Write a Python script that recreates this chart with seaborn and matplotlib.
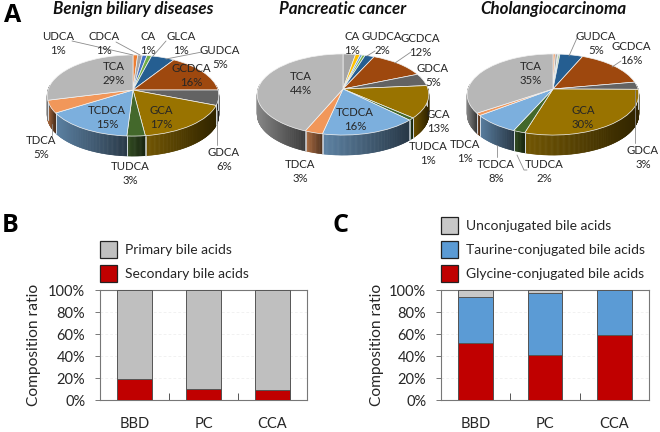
import numpy as np
import pandas as pd
import matplotlib
matplotlib.use("Agg")
import matplotlib.pyplot as plt
from matplotlib.path import Path
from matplotlib.patches import PathPatch, Polygon, Patch
from matplotlib.colors import to_rgb
import seaborn as sns

# ---------- data ----------
bbd_values = [1, 1, 1, 1, 5, 16, 6, 17, 3, 15, 5, 29]
pc_values = [2.7, 1, 0.5, 0.6, 2, 12, 5, 13, 1, 16, 3, 44]
cca_values = [0.5, 0.5, 0.2, 0.3, 5, 16, 3, 30, 2, 8, 1, 35]
bbd_colors = ["#ED7D31", "#A5A5A5", "#4472C4", "#70AD47", "#255E91", "#9E480E",
              "#636363", "#997300", "#43682B", "#7CAFDD", "#F1975A", "#B7B7B7"]
pc_colors = ["#A5A5A5", "#FFC000", "#5B9BD5", "#70AD47", "#255E91", "#9E480E",
             "#636363", "#997300", "#43682B", "#7CAFDD", "#F1975A", "#B7B7B7"]
cca_colors = ["#F1975A", "#A5A5A5", "#5B9BD5", "#70AD47", "#255E91", "#9E480E",
              "#636363", "#997300", "#43682B", "#7CAFDD", "#F1975A", "#B7B7B7"]

groups = ["BBD", "PC", "CCA"]
secondary = [19, 10, 9]
primary = [81, 90, 91]
glycine = [51.5, 40.5, 59]
taurine = [42.5, 57, 41]
unconjugated = [6, 2.5, 0]

sns.set_theme(style="white")
plt.rcParams["font.family"] = ["Lato", "DejaVu Sans"]
TXT = "#262626"

W, H = 660, 432
fig = plt.figure(figsize=(W / 100, H / 100), dpi=100, facecolor="white")


def axes_px(x0, y0, x1, y1):
    return fig.add_axes([x0 / W, 1 - y1 / H, (x1 - x0) / W, (y1 - y0) / H])


# ---------- pies (perspective disc drawn from ax.pie wedges) ----------
ov = fig.add_axes([0, 0, 1, 1])
K, BY, RX, DEPTH = 0.136, 39.8, 85.0, 20.0


def project(v, cx, cy):
    w = 1 + K * v[:, 1]
    return np.column_stack([cx + RX * v[:, 0] / w, cy - BY * v[:, 1] / w])


def pie3d(values, colors, cx, cy):
    wedges, _ = ov.pie(values, colors=colors, startangle=90, counterclock=False,
                       radius=1, center=(0, 0), frame=False)
    for wd in wedges:
        wd.remove()
    for wd, col in zip(wedges, colors):
        t1, t2 = wd.theta1, wd.theta2
        angs = np.arange(t1, t2 + 0.5, 0.5)
        angs = angs[np.sin(np.radians(angs)) < 0.12]
        if len(angs) < 2:
            continue
        rim = project(np.column_stack([np.cos(np.radians(angs)), np.sin(np.radians(angs))]), cx, cy)
        xmin, xmax = rim[:, 0].min(), rim[:, 0].max()
        base = np.array(to_rgb(col))
        for i in range(len(angs) - 1):
            tt = ((rim[i, 0] + rim[i + 1, 0]) / 2 - xmin) / max(xmax - xmin, 1)
            shade = base * (0.74 - 0.42 * tt)
            ov.add_patch(Polygon([rim[i], rim[i + 1], rim[i + 1] + [0, DEPTH], rim[i] + [0, DEPTH]],
                                 closed=True, fc=shade, ec=shade, lw=0.4, zorder=2))
        for a in (0, -1):
            ov.plot([rim[a, 0]] * 2, [rim[a, 1], rim[a, 1] + DEPTH], color="#dfe6ee", lw=0.5, zorder=2.5)
    for wd, col in zip(wedges, colors):
        p = wd.get_path()
        ov.add_patch(PathPatch(Path(project(p.vertices.copy(), cx, cy), p.codes),
                               fc=col, ec="#f2f2f2", lw=0.5, zorder=3))


pie3d(bbd_values, bbd_colors, 133, 90)
pie3d(pc_values, pc_colors, 343, 89)
pie3d(cca_values, cca_colors, 553, 89)
ov.set_xlim(0, W)
ov.set_ylim(H, 0)
ov.set_aspect("auto")
ov.set_axis_off()


def lab(x, y, name, pct):
    ov.text(x, y - 7, name, ha="center", va="center", fontsize=8.2, color=TXT, zorder=5)
    ov.text(x, y + 7, pct, ha="center", va="center", fontsize=8.2, color=TXT, zorder=5)


def lead(*pts):
    xs, ys = zip(*pts)
    ov.plot(xs, ys, color="#8c8c8c", lw=0.6, zorder=4)


for x, t in [(133, "Benign biliary diseases"), (343, "Pancreatic cancer"), (553, "Cholangiocarcinoma")]:
    ov.text(x, 9, t, ha="center", va="center", fontsize=12.2,
            fontweight="bold", fontstyle="italic", color="#111111")

# benign labels
lab(58, 44, "UDCA", "1%")
lab(104, 44, "CDCA", "1%")
lab(148, 44, "CA", "1%")
lab(181, 44, "GLCA", "1%")
lab(220, 57, "GUDCA", "5%")
lab(191, 76, "GCDCA", "16%")
lab(114, 74, "TCA", "29%")
lab(161, 118, "GCA", "17%")
lab(107, 118, "TCDCA", "15%")
lab(41, 148, "TDCA", "5%")
lab(130, 173, "TUDCA", "3%")
lab(224, 159, "GDCA", "6%")
lead((72, 41), (133, 55))
lead((116, 42), (140, 55))
lead((166, 41), (153, 56))
lead((202, 52), (166, 59))
lead((217, 110), (217, 145))
lead((52, 124), (52, 135))

# pancreatic labels
lab(352, 44, "CA", "1%")
lab(382, 44, "GUDCA", "2%")
lab(420, 45, "GCDCA", "12%")
lab(301, 83, "TCA", "44%")
lab(355, 120, "TCDCA", "16%")
lab(433, 75, "GDCA", "5%")
lab(438, 122, "GCA", "13%")
lab(428, 154, "TUDCA", "1%")
lab(300, 171, "TDCA", "3%")
lead((375, 51), (367, 56))
lead((411, 52), (395, 63))

# cholangio labels
lab(596, 44, "GUDCA", "5%")
lab(631, 54, "GCDCA", "16%")
lab(531, 74, "TCA", "35%")
lab(583, 117, "GCA", "30%")
lab(465, 151, "TDCA", "1%")
lab(496, 172, "TCDCA", "8%")
lab(544, 172, "TUDCA", "2%")
lab(643, 158, "GDCA", "3%")
lead((577, 38), (569, 56))
lead((621, 61), (612, 67))
lead((635, 90), (635, 143))
lead((497, 145), (497, 157))
lead((517, 155), (524, 170), (527, 170))

for x, y, t in [(4, 16, "A"), (2, 226, "B"), (333, 226, "C")]:
    ov.text(x, y, t, fontsize=18, fontweight="bold", color="black", va="center",
            family=["Open Sans", "DejaVu Sans"])


# ---------- stacked bars ----------
def stacked(ax, layers, label_x):
    """layers: (name, values, color) from bottom to top"""
    tops = np.cumsum([l[1] for l in layers], axis=0)
    for (name, vals, col), top in list(zip(layers, tops))[::-1]:
        df = pd.DataFrame({"group": groups, "value": top})
        sns.barplot(data=df, x="group", y="value", color=col, saturation=1, width=0.5,
                    edgecolor="#555555", linewidth=0.7, ax=ax, zorder=3)
    ax.set_ylim(0, 100)
    ax.set_xlim(-0.5, 2.5)
    ax.set_yticks(np.arange(0, 101, 20))
    ax.set_yticklabels([f"{v}%" for v in range(0, 101, 20)], fontsize=10.5, color=TXT)
    ax.set_xticks([0, 1, 2])
    ax.set_xticklabels(groups, fontsize=10.5, color=TXT)
    ax.set_xticks([0.5, 1.5], minor=True)
    ax.tick_params(axis="x", which="major", length=0, pad=12)
    ax.tick_params(axis="x", which="minor", length=5, width=0.7, color="#555555", direction="in", bottom=True)
    ax.tick_params(axis="y", length=3.6, width=0.7, color="#777777", left=True, pad=7)
    ax.set_xlabel("")
    ax.set_ylabel("Composition ratio", fontsize=11.2, color=TXT)
    ax.yaxis.set_label_coords(label_x, 0.5)
    ax.yaxis.grid(True, color="#ececec", lw=0.5, ls=(0, (4, 3)))
    ax.set_axisbelow(True)
    for s in ax.spines.values():
        s.set_visible(True)
        s.set_color("#777777")
        s.set_linewidth(0.8)
    handles = [Patch(fc=l[2], ec="#222222", lw=0.9, label=l[0]) for l in layers[::-1]]
    ax.legend(handles=handles, loc="lower left", bbox_to_anchor=(0, 1.07), frameon=False,
              fontsize=10, borderpad=0, borderaxespad=0, handlelength=1.22, handleheight=1.5,
              labelspacing=0.51, handletextpad=0.55, labelcolor=TXT)


axb = axes_px(100, 290, 307, 400)
stacked(axb, [("Secondary bile acids", secondary, "#C00000"),
              ("Primary bile acids", primary, "#BFBFBF")], -59 / 207)
axc = axes_px(441, 290, 649, 400)
stacked(axc, [("Glycine-conjugated bile acids", glycine, "#C00000"),
              ("Taurine-conjugated bile acids", taurine, "#5B9BD5"),
              ("Unconjugated bile acids", unconjugated, "#C8C8C8")], -57 / 208)

fig.savefig("out.png", dpi=100)
